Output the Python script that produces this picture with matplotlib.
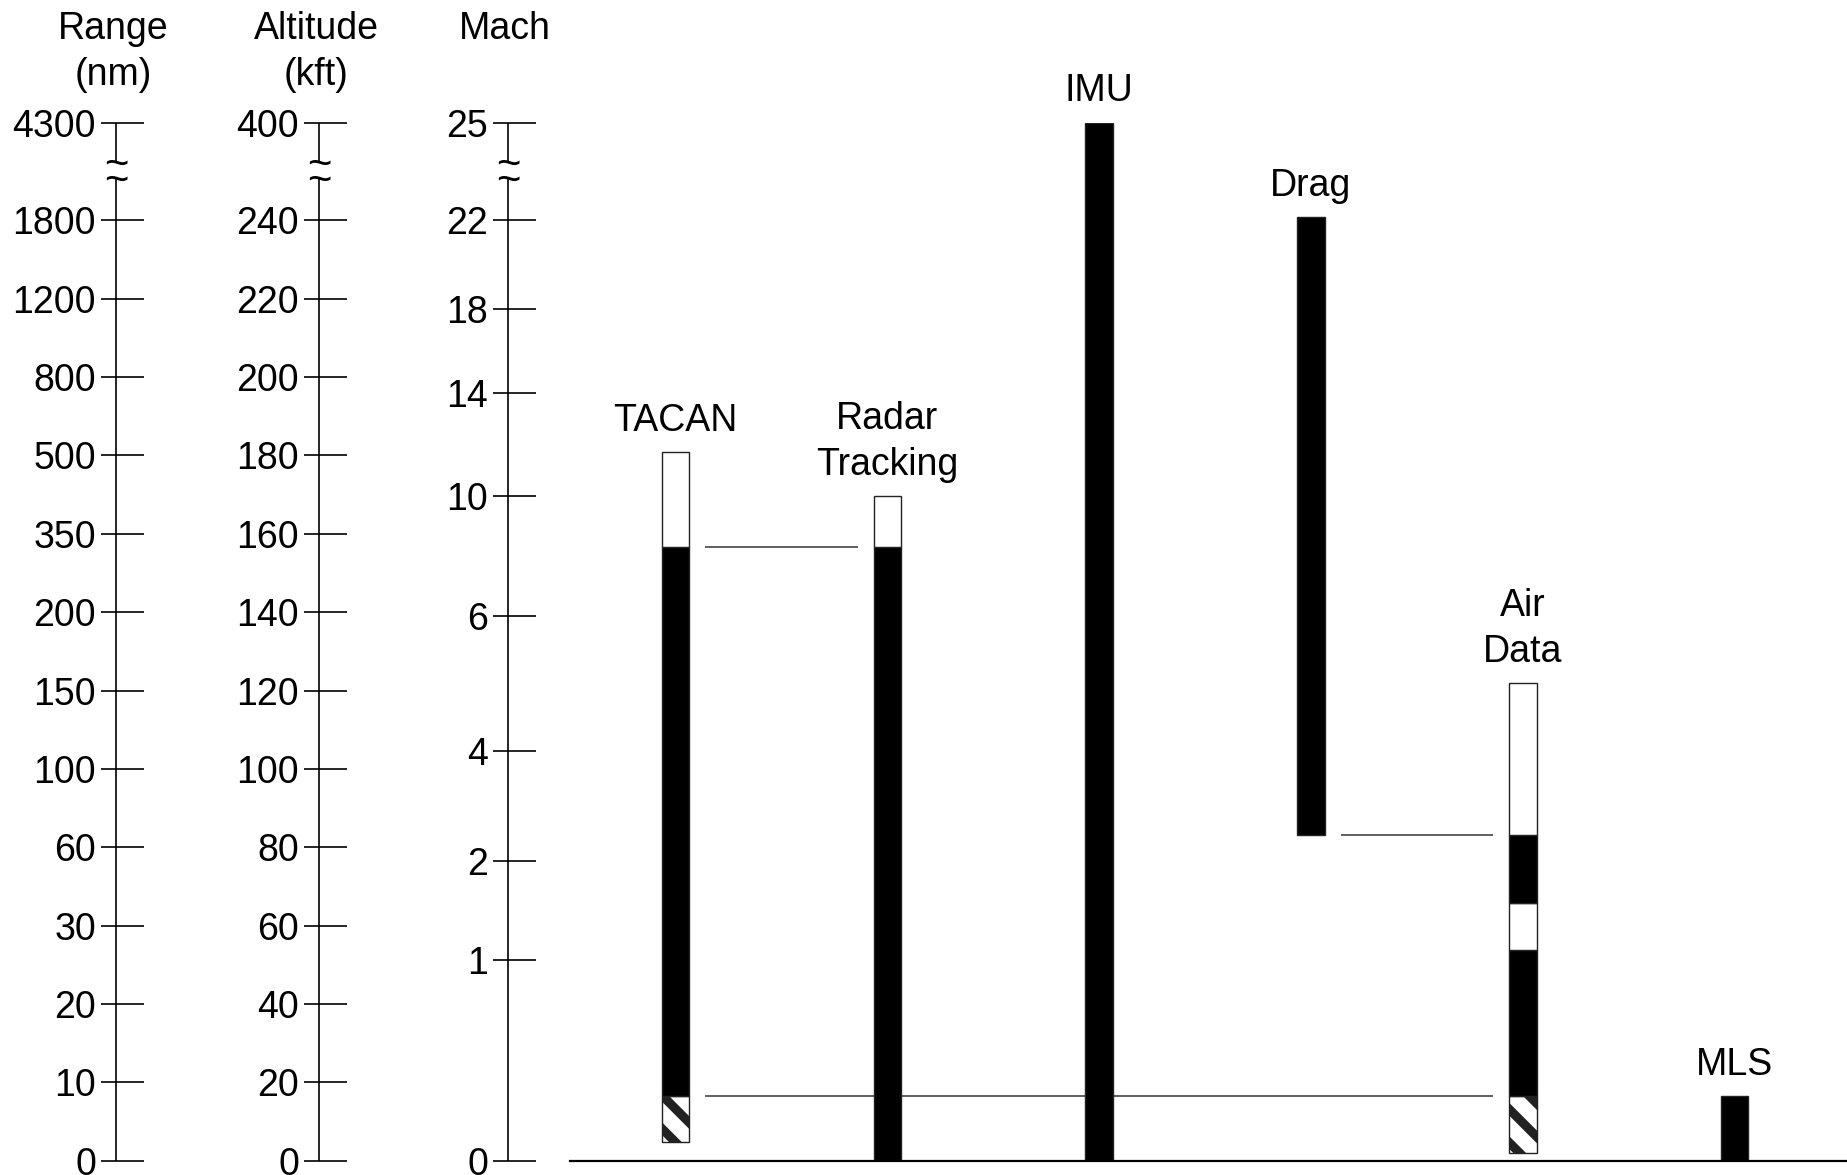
import numpy as np
import matplotlib.pyplot as plt

plt.rcParams['font.family'] = ['Liberation Sans', 'DejaVu Sans']
plt.rcParams['hatch.linewidth'] = 6.5

# tick values of the three scales
range_ticks = [0, 10, 20, 30, 60, 100, 150, 200, 350, 500, 800, 1200, 1800, 4300]
alt_ticks = [0, 20, 40, 60, 80, 100, 120, 140, 160, 180, 200, 220, 240, 400]
mach_ticks = [0, 1, 2, 4, 6, 10, 14, 18, 22, 25]

# where each tick sits on the chart, in tick spacings from the bottom
level_pos = [0, 1, 2, 3, 4, 5, 6, 7, 8, 9, 10, 11, 12, 13.25]
mach_pos = [0, 2.56, 3.82, 5.23, 6.95, 8.48, 9.80, 10.87, 12.0, 13.25]

sensors = ['TACAN', 'Radar\nTracking', 'IMU', 'Drag', 'Air\nData', 'MLS']

# bar segments (Mach)
seg_bar = [0, 0, 0, 1, 1, 2, 3, 4, 4, 4, 4, 4, 5]
seg_low = [0.09, 0.32, 8.3, 0, 8.3, 0, 2.47, 0.04, 0.32, 1.10, 1.58, 2.47, 0]
seg_high = [0.32, 8.3, 11.7, 8.3, 10.0, 25, 22.1, 0.32, 1.10, 1.58, 2.47, 5.0, 0.32]
seg_kind = ['hatch', 'black', 'white', 'black', 'white', 'black', 'black',
            'hatch', 'black', 'white', 'black', 'white', 'black']

# thin connector lines between bars
link_mach = [8.3, 0.32, 2.47]
link_from = [0, 0, 3]
link_to = [1, 4, 4]


def make_scale(ticks, pos):
    fwd = lambda v: np.interp(v, ticks, pos)
    inv = lambda p: np.interp(p, pos, ticks)
    return fwd, inv


W, H = 1847, 1175
fig = plt.figure(figsize=(W / 100, H / 100), dpi=100)
y0, y1 = 0.0123, 0.8957
fs = 27
ls = 1.36

# bars
axb = fig.add_axes([570 / W, y0, 1 - 570 / W, y1 - y0])
axb.set_yscale('function', functions=make_scale(mach_ticks, mach_pos))
axb.set_ylim(0, 25)
axb.set_xlim(-0.4986, 5.531)
for s in ['top', 'left', 'right']:
    axb.spines[s].set_visible(False)
axb.spines['bottom'].set_linewidth(1.6)
axb.set_xticks([])
axb.set_yticks([])
axb.minorticks_off()

bw = 0.13
for b, lo, hi, kind in zip(seg_bar, seg_low, seg_high, seg_kind):
    axb.bar(b, hi - lo, bottom=lo, width=bw,
            color='black' if kind == 'black' else 'white',
            edgecolor='#222222', linewidth=1.0,
            hatch='\\' if kind == 'hatch' else None, zorder=2)

for i, name in enumerate(sensors):
    top = max(h for b, h in zip(seg_bar, seg_high) if b == i)
    axb.annotate(name, (i, top), xytext=(0, 9.5), textcoords='offset points',
                 ha='center', va='bottom', fontsize=fs, linespacing=ls,
                 annotation_clip=False)

gap = 0.075
for m, a, b in zip(link_mach, link_from, link_to):
    axb.hlines(m, a + bw / 2 + gap, b - bw / 2 - gap, color='#444444', lw=1.2, zorder=1)

# the three vertical scales
scales = [('Range\n(nm)', range_ticks, level_pos, 114),
          ('Altitude\n(kft)', alt_ticks, level_pos, 317),
          ('Mach', mach_ticks, mach_pos, 506)]
for title, ticks, pos, xa in scales:
    ax = fig.add_axes([0, y0, 1, y1 - y0])
    ax.set_yscale('function', functions=make_scale(ticks, pos))
    ax.set_xlim(0, W)
    ax.set_ylim(ticks[0], ticks[-1])
    ax.axis('off')
    xa = xa + 2
    brk = np.interp([12.75, 12.55], pos, ticks)
    ax.vlines(xa, brk[0], ticks[-1], color='black', lw=1.2, clip_on=False)
    ax.vlines(xa, ticks[0], brk[1], color='black', lw=1.2, clip_on=False)
    for b in brk:
        ax.text(xa, b, '~', ha='center', va='center_baseline', fontsize=30)
    ax.hlines(ticks, xa - 15, xa + 28, color='black', lw=1.2, clip_on=False)
    for t in ticks:
        ax.text(xa - 20, t, str(t), ha='right', va='center_baseline', fontsize=fs)
    # va='baseline' aligns the last line
    y_base = 85 if '\n' in title else 39
    fig.text((xa - 3) / W, 1 - y_base / H, title, ha='center', va='baseline',
             fontsize=fs, linespacing=ls)

fig.savefig('out.png', dpi=100)
